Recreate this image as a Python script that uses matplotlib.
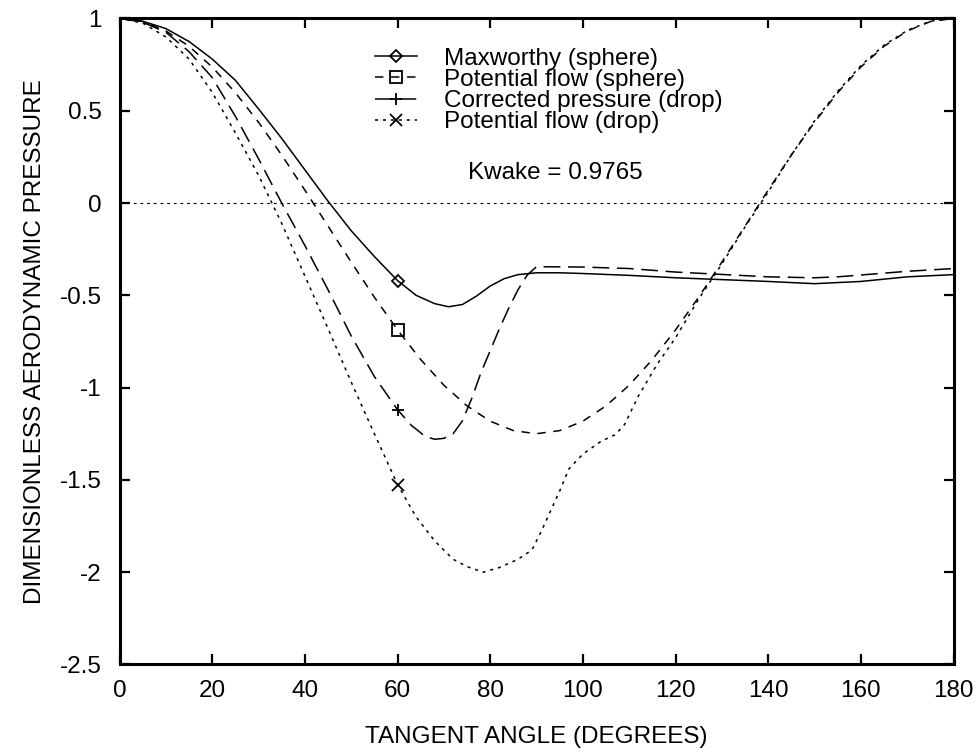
import numpy as np
import matplotlib
matplotlib.use("Agg")
import matplotlib.pyplot as plt

# pressure distributions along the drop/sphere surface (angle in degrees)
ang_mw = [0, 5, 10, 15, 20, 25, 30, 35, 40, 45, 50, 55, 60, 64, 68, 71, 74, 77,
          80, 83, 86, 90, 95, 100, 110, 120, 130, 140, 150, 160, 170, 180]
cp_mw = [1.0, 0.985, 0.945, 0.875, 0.78, 0.665, 0.51, 0.35, 0.18, 0.01, -0.15,
         -0.29, -0.42, -0.50, -0.545, -0.562, -0.55, -0.505, -0.45, -0.41, -0.388,
         -0.378, -0.378, -0.382, -0.392, -0.405, -0.415, -0.425, -0.437, -0.425,
         -0.40, -0.388]

ang_ps = [0, 5, 10, 15, 20, 25, 30, 35, 40, 45, 50, 55, 60, 65, 70, 75, 80, 85,
          90, 95, 100, 105, 110, 115, 120, 125, 130, 135, 140, 145, 150, 155,
          160, 165, 170, 175, 180]
cp_ps = [1.0, 0.983, 0.932, 0.849, 0.737, 0.598, 0.4375, 0.260, 0.070, -0.125,
         -0.320, -0.510, -0.6875, -0.848, -0.987, -1.099, -1.182, -1.233, -1.25,
         -1.233, -1.182, -1.099, -0.987, -0.848, -0.6875, -0.510, -0.320, -0.125,
         0.070, 0.260, 0.4375, 0.598, 0.737, 0.849, 0.932, 0.983, 1.0]

ang_cd = [0, 5, 10, 15, 20, 25, 30, 35, 40, 45, 50, 55, 60, 63, 66, 68, 70, 72,
          74, 76, 78, 80, 82, 84, 86, 88, 90, 100, 110, 120, 130, 140, 150, 155,
          160, 170, 180]
cp_cd = [1.0, 0.98, 0.925, 0.82, 0.68, 0.47, 0.24, 0.0, -0.23, -0.47, -0.72,
         -0.94, -1.12, -1.205, -1.265, -1.28, -1.275, -1.25, -1.18, -1.06, -0.92,
         -0.80, -0.68, -0.57, -0.47, -0.39, -0.345, -0.347, -0.355, -0.374,
         -0.387, -0.40, -0.405, -0.40, -0.39, -0.37, -0.355]

ang_pd = [0, 5, 10, 15, 20, 25, 30, 35, 40, 45, 50, 55, 60, 64, 68, 72, 75, 78.5,
          82, 86, 89, 91, 93, 95, 97, 100, 104, 107, 109, 112, 116, 120, 125, 130,
          135, 140, 145, 150, 155, 160, 165, 170, 175, 180]
cp_pd = [1.0, 0.975, 0.90, 0.78, 0.60, 0.38, 0.15, -0.11, -0.395, -0.68, -0.97,
         -1.25, -1.525, -1.70, -1.83, -1.93, -1.97, -2.0, -1.975, -1.93, -1.88,
         -1.78, -1.67, -1.56, -1.44, -1.36, -1.29, -1.255, -1.20, -1.045, -0.875,
         -0.73, -0.52, -0.33, -0.13, 0.06, 0.26, 0.445, 0.605, 0.745, 0.855,
         0.935, 0.985, 1.0]

labels = ["Maxworthy (sphere)", "Potential flow (sphere)",
          "Corrected pressure (drop)", "Potential flow (drop)"]
kwake = 0.9765
mark_at = 60

xticks = [0, 20, 40, 60, 80, 100, 120, 140, 160, 180]
yticks = [-2.5, -2, -1.5, -1, -0.5, 0, 0.5, 1]

FS = 17.5

plt.rcParams["font.family"] = ["Liberation Sans", "DejaVu Sans"]
plt.rcParams["axes.unicode_minus"] = False

fig = plt.figure(figsize=(9.78, 7.55), dpi=100)
ax = fig.add_axes([0.1222, 0.1199, 0.8528, 0.8557])

styles = [
    dict(marker="D", ms=6.5, dashes=None),
    dict(marker="s", ms=8.5, dashes=(5.5, 5.0)),
    dict(marker="+", ms=9, dashes=(11, 5.0)),
    dict(marker="x", ms=8, dashes=(2.0, 3.2)),
]
series = [(ang_mw, cp_mw), (ang_ps, cp_ps), (ang_cd, cp_cd), (ang_pd, cp_pd)]

for (a, c), st, lab in zip(series, styles, labels):
    idx = a.index(mark_at)
    kw = dict(color="black", lw=1.1, marker=st["marker"], ms=st["ms"],
              mfc="none", mec="black", mew=1.3, markevery=[idx], label=lab)
    if st["dashes"]:
        ax.plot(a, c, ls="--", dashes=st["dashes"], **kw)
    else:
        ax.plot(a, c, ls="-", **kw)

# zero reference line
ax.axhline(0, color="black", lw=0.8, ls=(0, (2.5, 3.5)))

ax.set_xlim(0, 180)
ax.set_ylim(-2.5, 1)
ax.set_xticks(xticks)
ax.set_yticks(yticks)
ax.set_xticklabels([f"{v:g}" for v in xticks])
ax.set_yticklabels([f"{v:g}" for v in yticks])
ax.tick_params(direction="in", length=7, width=1.6, top=True, right=True,
               labelsize=FS)
ax.tick_params(axis="x", pad=11)
ax.tick_params(axis="y", pad=13)
for sp in ax.spines.values():
    sp.set_linewidth(2.2)

ax.set_xlabel("TANGENT ANGLE (DEGREES)", fontsize=FS, labelpad=17.5)
ax.set_ylabel("DIMENSIONLESS AERODYNAMIC PRESSURE", fontsize=FS, labelpad=10)

ax.legend(loc="upper left", bbox_to_anchor=(0.3063, 0.955), frameon=False,
          fontsize=FS, handlelength=1.73, handletextpad=1.1, labelspacing=-0.03,
          borderpad=0, borderaxespad=0, numpoints=1)
ax.text(0.522, 0.761, f"Kwake = {kwake}", transform=ax.transAxes,
        ha="center", va="center", fontsize=FS)

fig.savefig("out.png", dpi=100)
